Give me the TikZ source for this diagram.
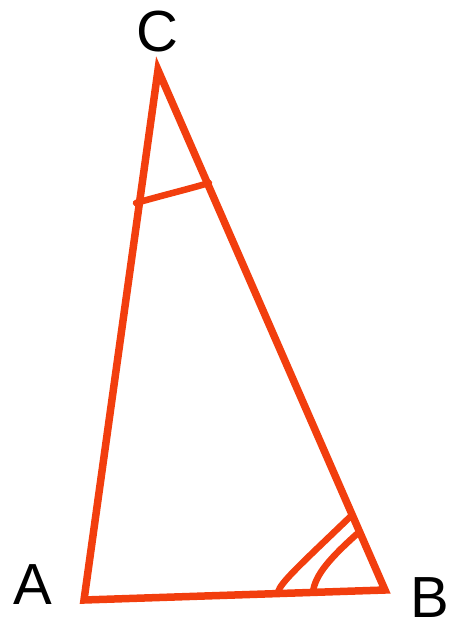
\documentclass[tikz,border=0pt]{standalone}
\usepackage{fontspec}
\setmainfont{Liberation Sans}
\definecolor{tri}{RGB}{242,62,14}
\begin{document}
\begin{tikzpicture}[x=1pt,y=-1pt,
  edge/.style={draw=tri,line width=7.5pt,line join=miter},
  anglemark/.style={draw=tri,line width=6.5pt,line cap=round},
  lbl/.style={font=\fontsize{58}{58}\selectfont,inner sep=0pt}]
\useasboundingbox (0,0) rectangle (449,626);
\coordinate (C) at (158,70);
\coordinate (A) at (84,600);
\coordinate (B) at (385,590);
\draw[edge] (A) -- (B) -- (C) -- cycle;
\coordinate (c1) at (136,203);
\coordinate (c2) at (209,183);
\draw[anglemark] (c1) .. controls (160,196) and (185,190) .. (c2);
\coordinate (b1) at (278,592);
\coordinate (b2) at (351,516);
\draw[anglemark] (b1) .. controls (281,582) and (300,565) .. (b2);
\coordinate (b3) at (313,592);
\coordinate (b4) at (358,533);
\draw[anglemark] (b3) .. controls (315,575) and (330,558) .. (b4);
\node[lbl] (lC) at (157,32) {C};
\node[lbl] (lA) at (33,585) {A};
\node[lbl] (lB) at (430,598) {B};
\end{tikzpicture}
\end{document}
